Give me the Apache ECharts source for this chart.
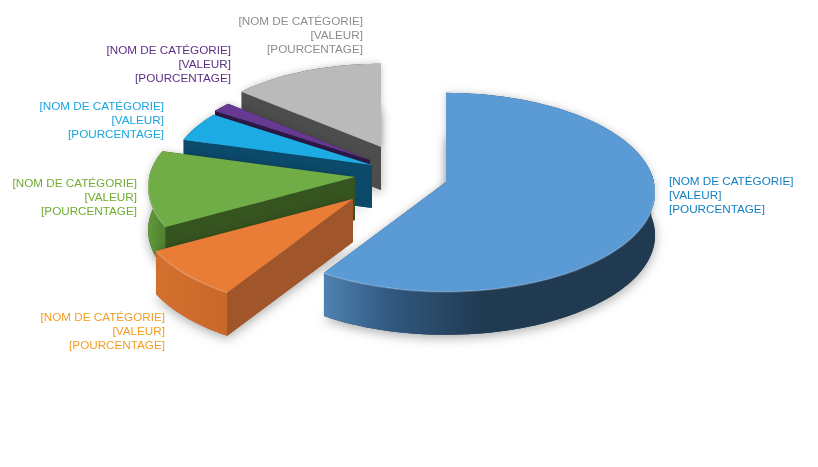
<!DOCTYPE html>
<html><head><meta charset="utf-8">
<style>html,body{margin:0;padding:0;background:#fff}#c{width:818px;height:467px}</style>
<script src="https://cdn.jsdelivr.net/npm/echarts@6/dist/echarts.min.js"></script>
</head><body><div id="c"></div>
<script>
// Data
const categories = ["Cat 1","Cat 2","Cat 3","Cat 4","Cat 5","Cat 6"];
const values = [59, 7.9, 12.5, 5, 1.7, 13.9];
const labelText = "[NOM DE CATÉGORIE]\n[VALEUR]\n[POURCENTAGE]";

// Styles and layout
const topColors  = ["#5B9BD5","#E97C36","#70AD47","#1CACE3","#663A92","#BABABA"];
const wallColors = ["#1F3A55","#A0562A","#36541F","#0B4A6B","#2F1A48","#4D4D4D"];
const rimFrom    = ["#4F82B2","#D4702E","#5F9A3A","#0B4A6B","#2F1A48","#4D4D4D"];
const rimTo      = ["#203A52","#C8682A","#4F7F2F","#0B4A6B","#2F1A48","#4D4D4D"];
const textColors = ["#0F7FC4","#F39C1F","#6FAC2F","#1BA4E0","#5B2F86","#8C8C8C"];
const explode = [[50,12],[-43,29],[-41,7],[-24,-5],[-26,-10],[-15,-23]];
const depthScale = [0.99,1.02,0.98,0.96,0.94,0.925];
const labelAnchor = [[669,175,'left'],[165,311,'right'],[137,177,'right'],[164,100,'right'],[231,44,'right'],[363,15,'right']];
const center = [396,170], Rx = 210, Ry = 99.4, P = 0.104, H = 43;

const total = values.reduce((a,b)=>a+b,0);
const starts = []; { let acc = 0; values.forEach(v=>{ starts.push(acc/total*360); acc+=v; }); }
const rad = d => d*Math.PI/180;

function project(i, r, deg, drop){
  const ax = center[0]+explode[i][0], ay = center[1]+explode[i][1];
  const u = r*Math.sin(rad(deg)), v = r*Math.cos(rad(deg));
  const s = depthScale[i]/(1+P*v);
  return [ax+Rx*u*s, ay-Ry*v*s+(drop?H:0)];
}
function arc(i, a0, a1, drop){
  const pts=[]; const n=Math.max(2,Math.ceil((a1-a0)/2));
  for(let k=0;k<=n;k++) pts.push(project(i,1,a0+(a1-a0)*k/n,drop));
  return pts;
}
function renderItem(params, api){
  const i = params.dataIndex;
  const a0 = starts[i], a1 = a0 + api.value(0)/total*360;
  const z = i===0 ? 60 : (7-i)*10; // back slices first
  const kids = [];
  const apex = project(i,0,0,false), apexB = project(i,0,0,true);
  const face = [apex].concat(arc(i,a0,a1,false));
  const faceB = [apexB].concat(arc(i,a0,a1,true));
  kids.push({type:'polygon',z2:z,shape:{points:faceB},style:{fill:wallColors[i],shadowColor:'rgba(0,0,0,0.32)',shadowBlur:11,shadowOffsetY:3}});
  kids.push({type:'polygon',z2:z,shape:{points:face},style:{fill:wallColors[i],shadowColor:'rgba(0,0,0,0.22)',shadowBlur:7}});
  // Outer rim (the part facing the viewer, plus its edge-on ends)
  const r0 = Math.max(a0,85), r1 = Math.min(a1,285);
  if(r1>r0){
    const t = arc(i,r0,r1,false), b = arc(i,r0,r1,true).reverse();
    const xs = t.map(p=>p[0]);
    const right = Math.max.apply(null,xs), left = Math.min.apply(null,xs);
    const stops = i===0 ? [{offset:0,color:rimTo[i]},{offset:0.52,color:rimTo[i]},{offset:0.8,color:'#31587F'},{offset:1,color:rimFrom[i]}]
                        : [{offset:0,color:rimTo[i]},{offset:1,color:rimFrom[i]}];
    kids.push({type:'polygon',z2:z+1,shape:{points:t.concat(b)},style:{fill:{type:'linear',x:right,y:0,x2:left,y2:0,global:true,colorStops:stops}}});
  }
  // Cut wall at the start of the slice, when it faces the viewer
  if(Math.sin(rad(a0))<0){
    const e = project(i,1,a0,false), eb = project(i,1,a0,true);
    kids.push({type:'polygon',z2:z+2,shape:{points:[apex,e,eb,apexB]},style:{fill:wallColors[i]}});
  }
  // Top face
  kids.push({type:'polygon',z2:z+3,shape:{points:face},style:{fill:topColors[i]}});
  // Soft bevel along the front rim
  const b0 = Math.max(a0,90), b1 = Math.min(a1,270);
  if(b1>b0){
    kids.push({type:'polyline',z2:z+4,shape:{points:arc(i,b0,b1,false)},style:{fill:null,stroke:'rgba(255,255,255,0.22)',lineWidth:1.5}});
  }
  const la = labelAnchor[i];
  kids.push({type:'text',z2:100,x:la[0],y:la[1],style:{text:labelText,fill:textColors[i],font:'11.7px "Liberation Sans", Arial, sans-serif',align:la[2],verticalAlign:'top',lineHeight:14}});
  return {type:'group',children:kids};
}
const chart = echarts.init(document.getElementById('c'),null,{renderer:'canvas',width:818,height:467});
chart.setOption({
  animation:false,
  backgroundColor:'#fff',
  series:[{type:'custom',coordinateSystem:'none',renderItem,silent:true,
    data:categories.map((c,i)=>({name:c,value:[values[i]]})),clip:false}]
});
</script></body></html>
